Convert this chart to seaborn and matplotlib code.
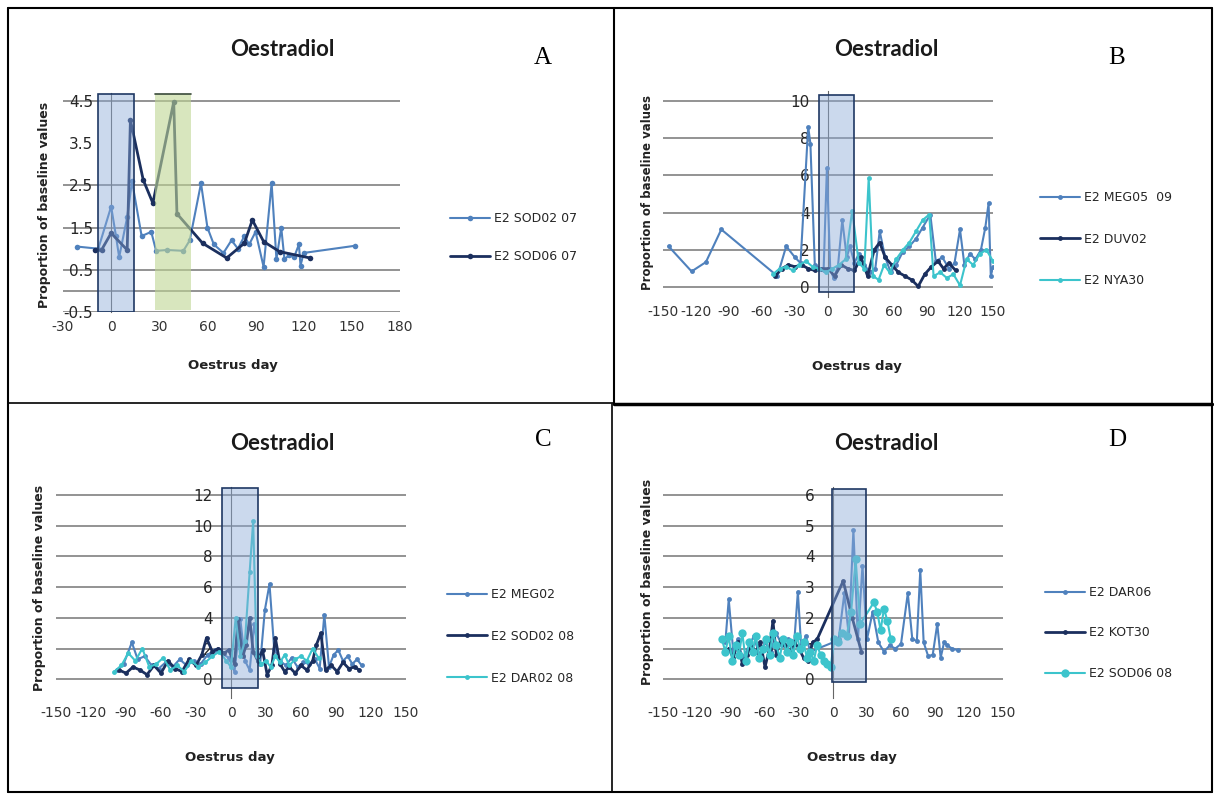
import numpy as np
import pandas as pd
import matplotlib
matplotlib.use("Agg")
import matplotlib.pyplot as plt
import seaborn as sns
from matplotlib.patches import Rectangle
from matplotlib.lines import Line2D

# ---------------- data ----------------
A_SOD02_07_day = [-21, -8, 0, 3, 5, 10, 13, 19, 25, 28, 35, 45, 49, 56, 60, 64, 70, 75, 79, 83, 86, 90, 95, 100, 103, 106, 108, 111, 114, 117, 118, 120, 152]
A_SOD02_07_val = [1.05, 1.0, 2.0, 1.3, 0.8, 1.75, 2.6, 1.3, 1.4, 0.95, 0.97, 0.95, 1.2, 2.55, 1.5, 1.1, 0.9, 1.2, 1.0, 1.3, 1.1, 1.4, 0.57, 2.55, 0.75, 1.5, 0.75, 0.85, 0.8, 1.1, 0.6, 0.9, 1.07]
A_SOD06_07_day = [-10, -6, 0, 10, 12, 20, 26, 39, 41, 57, 72, 83, 88, 95, 105, 124]
A_SOD06_07_val = [0.97, 0.97, 1.37, 0.97, 4.05, 2.63, 2.08, 4.48, 1.83, 1.13, 0.78, 1.13, 1.68, 1.17, 0.93, 0.78]

B_MEG05_09_day = [-145, -124, -111, -97, -46, -38, -30, -25, -18, -16, -12, -7, -4, -1, 2, 5, 9, 13, 17, 20, 24, 28, 33, 38, 43, 47, 52, 57, 62, 68, 74, 80, 86, 93, 98, 104, 110, 115, 120, 124, 129, 134, 139, 143, 146, 148, 150]
B_MEG05_09_val = [2.2, 0.85, 1.35, 3.1, 0.6, 2.2, 1.6, 1.3, 8.6, 7.7, 1.2, 1.0, 0.9, 6.4, 1.0, 0.5, 1.1, 3.6, 1.6, 2.2, 1.3, 1.8, 1.2, 0.8, 1.0, 3.0, 1.6, 0.8, 1.2, 1.9, 2.2, 2.6, 3.2, 3.9, 1.4, 1.6, 1.0, 1.3, 3.1, 1.2, 1.8, 1.5, 2.0, 3.2, 4.5, 0.6, 1.1]
B_DUV02_day = [-48, -42, -36, -30, -24, -18, -12, -6, 0, 6, 12, 18, 24, 30, 36, 42, 47, 52, 58, 64, 70, 76, 82, 88, 94, 100, 105, 110, 116]
B_DUV02_val = [0.6, 1.0, 1.2, 1.1, 1.2, 1.0, 0.9, 1.0, 1.0, 0.6, 1.2, 1.0, 0.9, 1.6, 0.6, 2.0, 2.4, 1.6, 1.2, 0.8, 0.6, 0.4, 0.05, 0.7, 1.1, 1.4, 1.0, 1.3, 0.9]
B_NYA30_day = [-50, -44, -38, -32, -26, -20, -14, -8, -2, 4, 10, 16, 22, 28, 33, 37, 41, 46, 51, 56, 62, 68, 74, 80, 86, 92, 96, 102, 108, 114, 120, 126, 132, 138, 144, 150]
B_NYA30_val = [0.7, 1.0, 1.1, 0.9, 1.2, 1.4, 1.1, 1.0, 0.8, 1.0, 1.2, 1.5, 4.1, 1.3, 1.0, 5.85, 0.6, 0.4, 1.2, 0.8, 1.5, 2.0, 2.4, 3.0, 3.6, 3.9, 0.6, 0.8, 0.5, 0.7, 0.1, 1.5, 1.2, 1.8, 2.0, 1.4]

C_MEG02_day = [-98, -92, -85, -80, -74, -68, -62, -56, -50, -44, -38, -32, -26, -20, -14, -8, -2, 3, 8, 12, 16, 20, 25, 29, 33, 37, 42, 47, 52, 57, 62, 67, 72, 76, 80, 84, 88, 92, 96, 100, 104, 108, 112]
C_MEG02_val = [0.6, 1.0, 2.4, 1.3, 1.5, 0.9, 0.7, 1.1, 0.8, 1.3, 0.9, 1.2, 1.0, 1.6, 1.9, 1.7, 1.4, 0.5, 3.9, 1.2, 0.6, 3.6, 1.0, 4.5, 6.2, 2.0, 1.2, 0.9, 1.4, 0.8, 1.1, 1.0, 1.3, 0.7, 4.2, 0.8, 1.6, 1.9, 1.2, 1.5, 1.0, 1.3, 0.9]
C_SOD02_08_day = [-96, -90, -84, -78, -72, -66, -60, -54, -48, -42, -36, -30, -25, -21, -16, -11, -6, -2, 3, 6, 10, 13, 16, 19, 23, 27, 31, 35, 38, 42, 46, 50, 55, 60, 65, 70, 73, 77, 81, 86, 91, 96, 101, 106, 110]
C_SOD02_08_val = [0.6, 0.4, 0.8, 0.6, 0.3, 0.9, 0.4, 1.2, 0.7, 0.5, 1.3, 0.9, 1.6, 2.7, 1.8, 2.0, 1.7, 1.9, 1.0, 3.9, 1.5, 2.2, 4.0, 1.8, 1.2, 1.9, 0.3, 0.9, 2.7, 1.0, 0.5, 0.8, 0.4, 0.9, 0.6, 1.2, 2.2, 3.0, 0.6, 0.9, 0.5, 1.1, 0.7, 0.8, 0.6]
C_DAR02_08_day = [-100, -94, -88, -82, -76, -70, -64, -58, -52, -46, -40, -34, -28, -22, -16, -10, -4, 0, 4, 8, 12, 16, 19, 22, 26, 30, 34, 38, 42, 46, 50, 55, 60, 65, 70, 75]
C_DAR02_08_val = [0.5, 0.9, 1.7, 1.2, 2.0, 0.8, 1.0, 1.4, 0.6, 0.9, 0.5, 1.2, 0.8, 1.1, 1.5, 1.8, 1.2, 0.8, 4.0, 1.5, 2.5, 7.0, 10.3, 1.5, 1.0, 1.2, 0.8, 1.5, 1.1, 1.6, 0.9, 1.3, 1.5, 1.2, 2.0, 1.4]

D_DAR06_day = [-95, -92, -88, -84, -80, -75, -70, -65, -60, -55, -50, -45, -40, -35, -31, -28, -24, -20, 0, 5, 10, 14, 18, 22, 26, 30, 35, 40, 45, 50, 55, 60, 66, 70, 74, 77, 80, 84, 88, 92, 95, 98, 101, 105, 110]
D_DAR06_val = [1.2, 2.6, 0.9, 1.3, 0.7, 1.0, 1.4, 0.8, 1.2, 0.9, 1.5, 1.1, 1.3, 0.8, 2.85, 1.0, 1.4, 0.9, 1.2, 1.3, 2.8, 1.4, 4.86, 1.3, 3.7, 1.3, 2.2, 1.2, 0.9, 1.1, 1.0, 1.15, 2.8, 1.3, 1.25, 3.55, 1.2, 0.75, 0.8, 1.8, 0.7, 1.2, 1.1, 1.0, 0.95]
D_KOT30_day = [-92, -88, -84, -80, -76, -72, -68, -64, -60, -56, -53, -50, -46, -42, -38, -34, -30, -26, -22, -18, -14, 9, 17, 25]
D_KOT30_val = [1.0, 0.7, 1.2, 0.5, 0.8, 1.1, 0.9, 1.2, 0.4, 1.0, 1.9, 0.8, 1.3, 1.1, 0.9, 1.2, 1.0, 0.7, 0.6, 1.2, 1.3, 3.2, 2.0, 0.9]
D_SOD06_08_day = [-98, -95, -92, -89, -86, -83, -80, -77, -74, -71, -68, -65, -62, -59, -56, -53, -50, -47, -44, -41, -38, -35, -32, -29, -26, -23, -20, -17, -14, -11, -8, -5, -2, 1, 4, 8, 12, 16, 20, 24, 36, 39, 42, 45, 48, 51]
D_SOD06_08_val = [1.3, 0.9, 1.4, 0.6, 1.1, 0.8, 1.5, 0.6, 1.2, 0.9, 1.4, 0.7, 1.0, 1.3, 0.8, 1.5, 1.1, 0.7, 1.3, 0.9, 1.2, 0.8, 1.4, 1.0, 1.2, 0.7, 0.9, 0.6, 1.1, 0.8, 0.6, 0.5, 0.4, 1.3, 1.2, 1.5, 1.4, 2.2, 3.9, 1.8, 2.5, 2.2, 1.6, 2.3, 1.9, 1.3]

A_YTICKS = [-0.5, 0.5, 1.5, 2.5, 3.5, 4.5]
A_XTICKS = [-30, 0, 30, 60, 90, 120, 150, 180]
BCD_XTICKS = [-150, -120, -90, -60, -30, 0, 30, 60, 90, 120, 150]
B_YTICKS = [0, 2, 4, 6, 8, 10]
C_YTICKS = [0, 2, 4, 6, 8, 10, 12]
D_YTICKS = [0, 1, 2, 3, 4, 5, 6]

# ---------------- style ----------------
sns.set_theme(style="white")
plt.rcParams["font.family"] = ["DejaVu Sans"]

W, H = 1214, 794
fig = plt.figure(figsize=(W / 100, H / 100), dpi=100)

MID = "#4F81BD"
NAVY = "#1B2F5E"
CYAN = "#3CC4CC"
GRID = "#8a8a8a"


def fx(px):
    return px / W


def fy(py):
    return 1 - py / H


def make_ax(left, top, right, bottom):
    return fig.add_axes([fx(left), fy(bottom), (right - left) / W, (bottom - top) / H])


def style_ax(ax, xlim, ylim, xticks, yticks, grid):
    ax.set_xlim(*xlim)
    ax.set_ylim(*ylim)
    ax.set_xticks(xticks)
    ax.set_yticks(yticks)
    ax.set_xticklabels([f"{t:g}" for t in xticks], fontsize=10, color="#333333")
    ax.set_yticklabels([f"{t:g}" for t in yticks], fontsize=10, color="#333333")
    ax.tick_params(axis="x", length=0, pad=6)
    ax.tick_params(axis="y", length=0, pad=13)
    for s in ["top", "right", "bottom"]:
        ax.spines[s].set_visible(False)
    ax.spines["left"].set_position(("data", 0))
    ax.spines["left"].set_color("#666666")
    ax.spines["left"].set_linewidth(0.8)
    ax.set_facecolor("none")
    for g in grid:
        ax.axhline(g, color=GRID, lw=1.3, zorder=0)
    ax.set_xlabel("")
    ax.set_ylabel("")


def draw(ax, day, val, color, ms=3.5, lw=1.5):
    df = pd.DataFrame({"day": day, "val": val})
    sns.lineplot(data=df, x="day", y="val", ax=ax, color=color, marker="o",
                 markersize=ms, markeredgewidth=0, lw=lw, sort=False,
                 estimator=None, zorder=3)


def box(ax, x0, x1, y0, y1, fc=(0.55, 0.67, 0.85, 0.45), ec="#1F3864", lw=1.2):
    ax.add_patch(Rectangle((x0, y0), x1 - x0, y1 - y0, facecolor=fc,
                           edgecolor=ec, lw=lw, zorder=5))


def legend(handles_spec, left_px, top_px, spacing):
    handles = [Line2D([0], [0], color=c, lw=lw, marker="o", markersize=ms,
                      markeredgewidth=0) for (_, c, ms, lw) in handles_spec]
    labels = [l for (l, _, _, _) in handles_spec]
    fig.legend(handles, labels, loc="upper left",
               bbox_to_anchor=(fx(left_px), fy(top_px)), frameon=False,
               fontsize=9, labelspacing=spacing, handlelength=3.2,
               handletextpad=0.3, borderaxespad=0, borderpad=0)


def titles(cx, cy, letter_x, letter_y, letter):
    fig.text(fx(cx), fy(cy), "Oestradiol", ha="center", va="center",
             fontsize=16, fontweight="bold", family="Lato", color="#1a1a1a")
    fig.text(fx(letter_x), fy(letter_y), letter, ha="center", va="center",
             fontsize=18, family="Liberation Serif", color="black")


def axis_labels(ylx, yly, xlx, xly, ysize=9):
    fig.text(fx(ylx), fy(yly), "Proportion of baseline values", rotation=90,
             ha="center", va="center", fontsize=ysize, fontweight="bold", color="#222222")
    fig.text(fx(xlx), fy(xly), "Oestrus day", ha="center", va="center",
             fontsize=9.5, fontweight="bold", color="#222222")


# ---------------- Panel A ----------------
axA = make_ax(63, 92.6, 400, 312)
draw(axA, A_SOD02_07_day, A_SOD02_07_val, MID, ms=4, lw=1.5)
draw(axA, A_SOD06_07_day, A_SOD06_07_val, NAVY, ms=4, lw=2)
style_ax(axA, (-30, 180), (-0.5, 4.7), A_XTICKS, A_YTICKS, [-0.5, 0.0, 0.5, 1.5, 2.5, 4.5])
box(axA, -8, 14.3, -0.5, 4.66)
box(axA, 27.4, 49.8, -0.45, 4.66, fc=(0.75, 0.84, 0.58, 0.6), ec="none", lw=0)
axA.plot([27.4, 49.8], [4.66, 4.66], color="#3a4a3a", lw=1.2, zorder=6)
titles(282, 50, 543, 58, "A")
axis_labels(45, 205, 233, 365)
legend([("E2 SOD02 07", MID, 4, 1.5), ("E2 SOD06 07", NAVY, 4, 2)], 450, 212, 2.0)

# ---------------- Panel B ----------------
axB = make_ax(663, 91.4, 993, 296.6)
draw(axB, B_MEG05_09_day, B_MEG05_09_val, MID)
draw(axB, B_DUV02_day, B_DUV02_val, NAVY, lw=2)
draw(axB, B_NYA30_day, B_NYA30_val, CYAN)
style_ax(axB, (-150, 150), (-0.5, 10.5), BCD_XTICKS, B_YTICKS, B_YTICKS)
box(axB, -8, 24, -0.25, 10.3)
titles(886, 50, 1117, 58, "B")
axis_labels(648, 192, 857, 367, ysize=8.5)
legend([("E2 MEG05  09", MID, 3.5, 1.5), ("E2 DUV02", NAVY, 3.5, 2), ("E2 NYA30", CYAN, 3.5, 1.5)], 1040, 191, 2.3)

# ---------------- Panel C ----------------
axC = make_ax(56, 487.3, 406, 697.7)
draw(axC, C_MEG02_day, C_MEG02_val, MID)
draw(axC, C_SOD02_08_day, C_SOD02_08_val, NAVY, lw=2)
draw(axC, C_DAR02_08_day, C_DAR02_08_val, CYAN)
style_ax(axC, (-150, 150), (-1.2, 12.5), BCD_XTICKS, C_YTICKS, C_YTICKS)
box(axC, -7.7, 23.3, -0.57, 12.45)
titles(282, 443, 543, 440, "C")
axis_labels(40, 588, 230, 758)
legend([("E2 MEG02", MID, 3.5, 1.5), ("E2 SOD02 08", NAVY, 3.5, 2), ("E2 DAR02 08", CYAN, 3.5, 1.5)], 447, 588, 2.3)

# ---------------- Panel D ----------------
axD = make_ax(663, 487.3, 1003, 697.7)
draw(axD, D_DAR06_day, D_DAR06_val, MID)
draw(axD, D_KOT30_day, D_KOT30_val, NAVY, lw=2)
draw(axD, D_SOD06_08_day, D_SOD06_08_val, CYAN, ms=6)
style_ax(axD, (-150, 150), (-0.6, 6.25), BCD_XTICKS, D_YTICKS, D_YTICKS)
box(axD, -1.1, 29, -0.08, 6.2)
titles(886, 443, 1117, 440, "D")
axis_labels(648, 582, 852, 758)
legend([("E2 DAR06", MID, 3.5, 1.5), ("E2 KOT30", NAVY, 3.5, 2), ("E2 SOD06 08", CYAN, 6, 1.5)], 1045, 586, 2.2)

# ---------------- frame lines ----------------
def fline(x0, y0, x1, y1, lw=1.5):
    fig.add_artist(Line2D([fx(x0), fx(x1)], [fy(y0), fy(y1)], color="black", lw=lw))

fline(8, 8, 1212, 8)
fline(8, 8, 8, 792)
fline(1212, 8, 1212, 792)
fline(8, 792, 1212, 792)
fline(614, 8, 614, 403)
fline(8, 403, 614, 403, lw=1.2)
fline(614, 404, 1212, 404, lw=2.5)
fline(612, 404, 612, 792, lw=1.2)

fig.savefig("out.png", dpi=100)
